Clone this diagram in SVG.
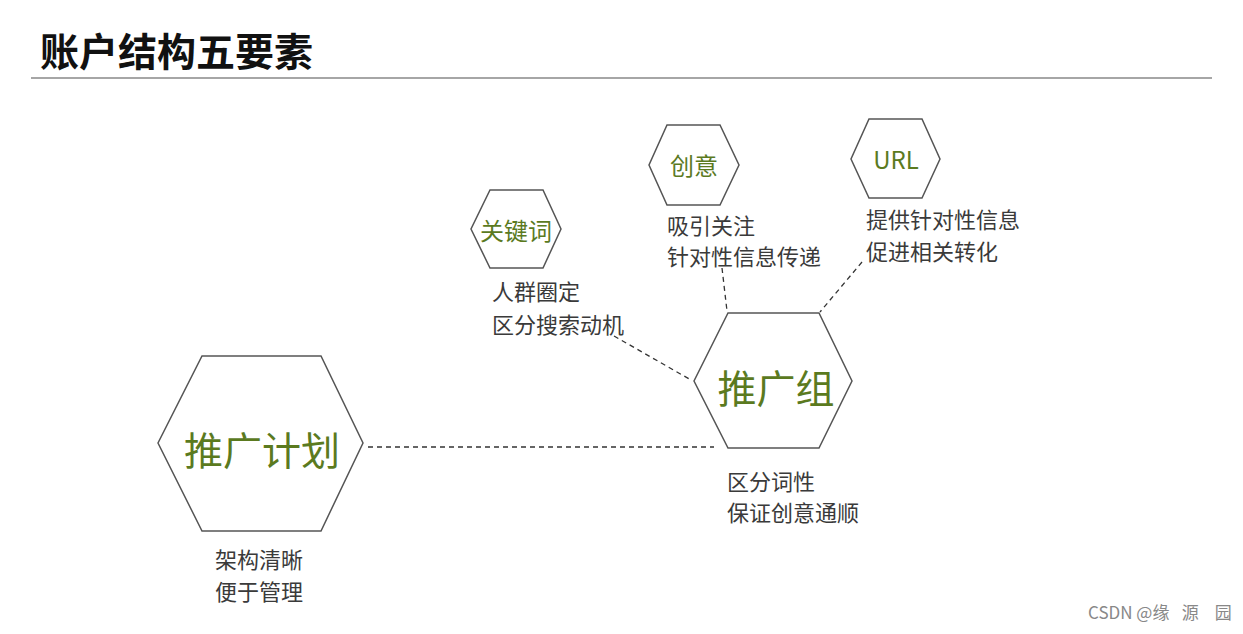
<svg xmlns="http://www.w3.org/2000/svg" width="1243" height="634" viewBox="0 0 1243 634">
<style>
.hex{fill:#fff;stroke:#555;stroke-width:1.5}
.g{fill:#5b7a1f;font-family:"Noto Sans CJK SC","Noto Sans",sans-serif;text-anchor:middle}
.lbl{fill:#3a3a3a;font-family:"Noto Sans CJK SC",sans-serif;font-size:22px}
.dash{fill:none;stroke:#333;stroke-width:1.3;stroke-dasharray:5 4}
</style>
<rect width="1243" height="634" fill="#fff"/>
<text x="40" y="66" font-family="'Noto Sans CJK SC',sans-serif" font-weight="700" font-size="39" fill="#111">账户结构五要素</text>
<line x1="31" y1="78" x2="1212" y2="78" stroke="#888" stroke-width="1.5"/>
<g id="connectors">
<line class="dash" x1="368" y1="447" x2="714" y2="447"/>
<line class="dash" x1="614" y1="336" x2="691" y2="380"/>
<line class="dash" x1="722" y1="268" x2="727" y2="311"/>
<line class="dash" x1="862" y1="262" x2="820" y2="312"/>
</g>
<g id="plan">
<polygon class="hex" points="202,356 321,356 363,443 321,531 202,531 158,443"/>
<text class="g" x="262" y="465" font-size="39">推广计划</text>
<text class="lbl" x="215" y="568">架构清晰</text>
<text class="lbl" x="215" y="600">便于管理</text>
</g>
<g id="group">
<polygon class="hex" points="728,313 819,313 852,381 819,448 728,448 694,381"/>
<text class="g" x="776" y="403" font-size="39">推广组</text>
<text class="lbl" x="727" y="490">区分词性</text>
<text class="lbl" x="727" y="521">保证创意通顺</text>
</g>
<g id="keyword">
<polygon class="hex" points="490,190 543,190 561,229 543,268 490,268 471,229"/>
<text class="g" x="516" y="240" font-size="24">关键词</text>
<text class="lbl" x="492" y="300">人群圈定</text>
<text class="lbl" x="492" y="333">区分搜索动机</text>
</g>
<g id="creative">
<polygon class="hex" points="667,125 720,125 739,165 720,205 667,205 649,165"/>
<text class="g" x="694" y="175" font-size="24">创意</text>
<text class="lbl" x="667" y="234">吸引关注</text>
<text class="lbl" x="667" y="265">针对性信息传递</text>
</g>
<g id="url">
<polygon class="hex" points="869,119 922,119 940,159 922,198 869,198 851,159"/>
<text class="g" x="896" y="169" font-size="24" font-family="'Liberation Sans',sans-serif">URL</text>
<text class="lbl" x="866" y="228">提供针对性信息</text>
<text class="lbl" x="866" y="260">促进相关转化</text>
</g>
<text y="619" font-family="'Noto Sans CJK SC',sans-serif" font-size="17" fill="#888"><tspan x="1088">CSDN @缘</tspan><tspan x="1178"> 源</tspan><tspan x="1211"> 园</tspan></text>
</svg>
